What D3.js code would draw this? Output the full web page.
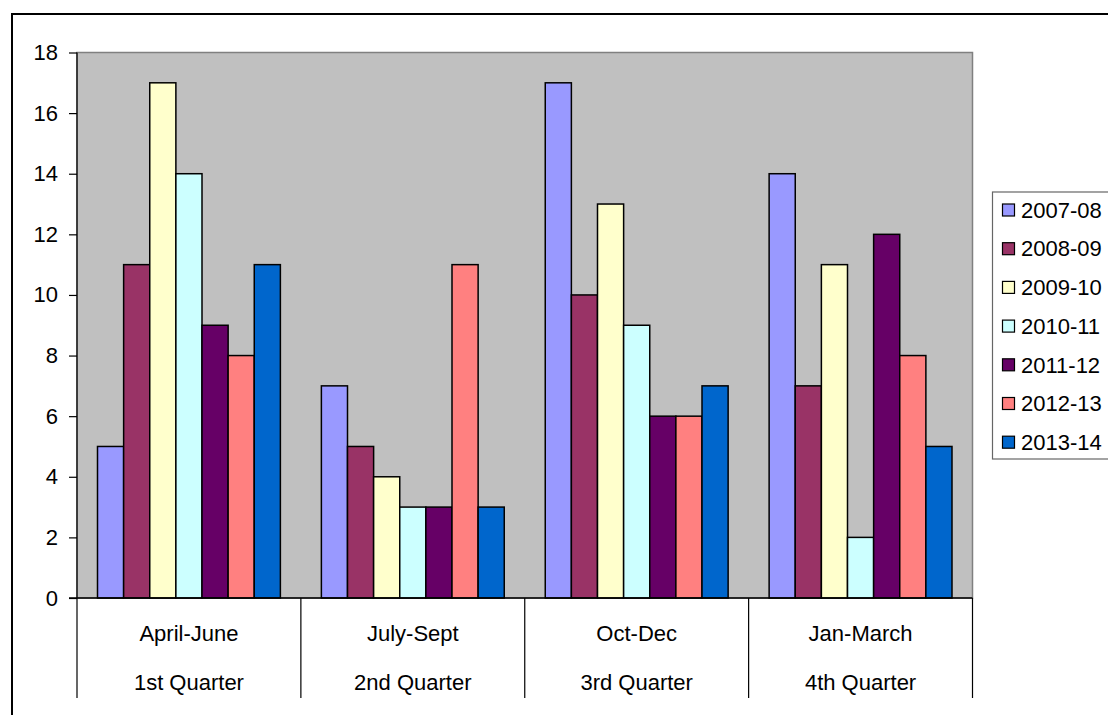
<!DOCTYPE html>
<html>
<head>
<meta charset="utf-8">
<script src="https://cdn.jsdelivr.net/npm/d3@7/dist/d3.min.js"></script>
<style>
  html, body { margin: 0; padding: 0; background: #fff; }
  svg { display: block; font-family: "Liberation Sans", Arial, sans-serif; }
</style>
</head>
<body>
<svg id="chart" width="1108" height="715"></svg>
<script>
// Quarter labels (two rows under the axis)
const quarters = ["April-June", "July-Sept", "Oct-Dec", "Jan-March"];
const quarterNames = ["1st Quarter", "2nd Quarter", "3rd Quarter", "4th Quarter"];

// Financial years (series)
const years = ["2007-08", "2008-09", "2009-10", "2010-11", "2011-12", "2012-13", "2013-14"];

// Values per year, one per quarter
const v2007 = [5, 7, 17, 14];
const v2008 = [11, 5, 10, 7];
const v2009 = [17, 4, 13, 11];
const v2010 = [14, 3, 9, 2];
const v2011 = [9, 3, 6, 12];
const v2012 = [8, 11, 6, 8];
const v2013 = [11, 3, 7, 5];
const seriesValues = [v2007, v2008, v2009, v2010, v2011, v2012, v2013];

const yTicks = [0, 2, 4, 6, 8, 10, 12, 14, 16, 18];

const colors = ["#9999FF", "#993366", "#FFFFCC", "#CCFFFF", "#660066", "#FF8080", "#0066CC"];

const FONT = 22;
const svg = d3.select("#chart");

// outer frame
svg.append("rect")
  .attr("x", 12).attr("y", 14).attr("width", 1110).attr("height", 710)
  .attr("fill", "#fff").attr("stroke", "#000").attr("stroke-width", 2);

const plot = { left: 77, top: 52.5, right: 972.5, bottom: 598 };

const x0 = d3.scaleBand().domain(d3.range(quarters.length))
  .range([plot.left, plot.right]).padding(0);
const x1 = d3.scaleBand().domain(d3.range(years.length))
  .range([20.5, x0.bandwidth() - 20.5]).padding(0);
const y = d3.scaleLinear().domain([0, 18]).range([plot.bottom, plot.top]);

// plot background
svg.append("rect")
  .attr("x", plot.left).attr("y", plot.top)
  .attr("width", plot.right - plot.left).attr("height", plot.bottom - plot.top)
  .attr("fill", "#C0C0C0").attr("stroke", "#808080").attr("stroke-width", 1.5);

// bars
const groups = svg.append("g").selectAll("g")
  .data(quarters.map((q, i) => i))
  .join("g")
  .attr("transform", i => `translate(${x0(i)},0)`);

groups.selectAll("rect")
  .data(i => seriesValues.map((vals, s) => ({ s, v: vals[i] })))
  .join("rect")
  .attr("x", d => x1(d.s))
  .attr("width", x1.bandwidth())
  .attr("y", d => y(d.v))
  .attr("height", d => y(0) - y(d.v))
  .attr("fill", d => colors[d.s])
  .attr("stroke", "#000").attr("stroke-width", 1.5);

// y axis
const yAxis = svg.append("g")
  .attr("transform", `translate(${plot.left},0)`)
  .call(d3.axisLeft(y).tickValues(yTicks).tickSize(8).tickPadding(11).tickFormat(d3.format("d")));
yAxis.select(".domain").attr("stroke", "#000").attr("stroke-width", 1.2)
  .attr("d", `M0,${plot.top}V${plot.bottom}`);
yAxis.selectAll(".tick line").attr("stroke", "#000").attr("stroke-width", 1.2);
yAxis.selectAll(".tick text").attr("font-size", FONT).attr("fill", "#000")
  .attr("font-family", "Liberation Sans, Arial, sans-serif");

// x axis baseline
svg.append("line")
  .attr("x1", plot.left - 8).attr("x2", plot.right)
  .attr("y1", plot.bottom).attr("y2", plot.bottom)
  .attr("stroke", "#000").attr("stroke-width", 1.5);

// category dividers
const bounds = d3.range(quarters.length + 1).map(i => i < quarters.length ? x0(i) : plot.right);
svg.append("g").selectAll("line")
  .data(bounds)
  .join("line")
  .attr("x1", d => d).attr("x2", d => d)
  .attr("y1", plot.bottom).attr("y2", 698)
  .attr("stroke", "#000").attr("stroke-width", 1.2);

// category labels
const labels = svg.append("g").attr("font-size", FONT).attr("fill", "#000").attr("text-anchor", "middle");
labels.selectAll("text.q")
  .data(quarters)
  .join("text").attr("class", "q")
  .attr("x", (d, i) => x0(i) + x0.bandwidth() / 2)
  .attr("y", 633).attr("dy", "0.35em")
  .text(d => d);
labels.selectAll("text.n")
  .data(quarterNames)
  .join("text").attr("class", "n")
  .attr("x", (d, i) => x0(i) + x0.bandwidth() / 2)
  .attr("y", 682).attr("dy", "0.35em")
  .text(d => d);

// legend
const legend = svg.append("g");
legend.append("rect")
  .attr("x", 992.5).attr("y", 192).attr("width", 140).attr("height", 267)
  .attr("fill", "#fff").attr("stroke", "#666").attr("stroke-width", 1.2);
const items = legend.selectAll("g.item")
  .data(years)
  .join("g").attr("class", "item")
  .attr("transform", (d, i) => `translate(0,${210 + i * 38.7})`);
items.append("rect")
  .attr("x", 1002.5).attr("y", -6).attr("width", 12).attr("height", 12)
  .attr("fill", (d, i) => colors[i]).attr("stroke", "#000").attr("stroke-width", 1.2);
items.append("text")
  .attr("x", 1021).attr("y", 0).attr("dy", "0.35em")
  .attr("font-size", FONT).attr("fill", "#000")
  .text(d => d);
</script>
</body>
</html>
